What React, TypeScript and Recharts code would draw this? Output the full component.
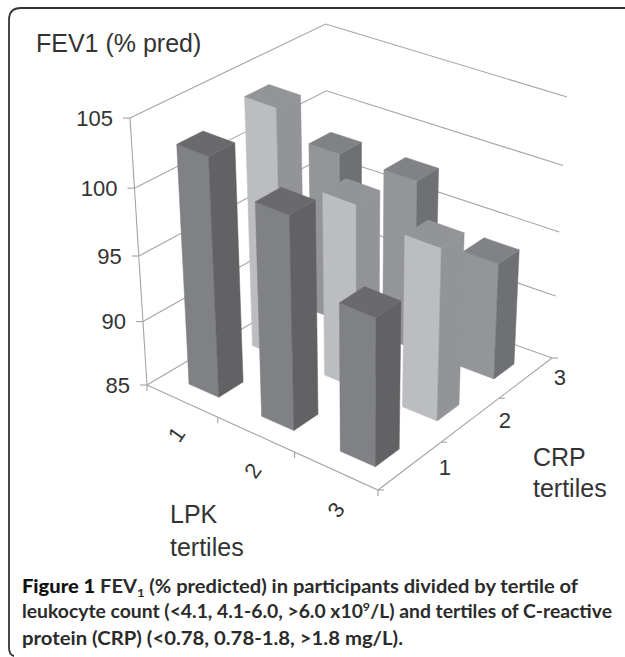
import { Scatter, ScatterChart, XAxis, YAxis } from 'recharts'

const WIDTH = 625
const HEIGHT = 657
const FONT = '"Liberation Sans", Arial, sans-serif'

const lpkTertiles = [1, 2, 3]
const crpTertiles = [1, 2, 3]
const fevTicks = [85, 90, 95, 100, 105]

// FEV1 (% pred) per LPK tertile, one list per CRP tertile
const fevCrp1 = [103.1, 101.15, 96.25]
const fevCrp2 = [104.05, 99.1, 98.2]
const fevCrp3 = [98.2, 98.15, 94.05]

const fevByCrp = [fevCrp1, fevCrp2, fevCrp3]

// left face, right face, top face per CRP tertile
const crpColors = [
  ['#808184', '#626264', '#6a6a6c'],
  ['#bcbdc0', '#929497', '#929497'],
  ['#939598', '#6f7073', '#808285'],
]

const FEV_MIN = 85
const FEV_MAX = 105
const BAR_U = 0.14
const BAR_V = 0.125

// camera: floor corners, wall height at each corner, vertical vanishing point
const floor = { ax: 147, ay: 385, bx: 378, by: 490, cx: 552, cy: 358, dx: 328, dy: 278 }
const wallHeight = { a: 267, b: 275, c: 261, d: 254 }
const vanish = { x: 359, y: 3714 }
const SQUEEZE = 0.07

const den = (floor.bx - floor.cx) * (floor.dy - floor.cy) - (floor.dx - floor.cx) * (floor.by - floor.cy)
const sx = floor.ax - floor.bx + floor.cx - floor.dx
const sy = floor.ay - floor.by + floor.cy - floor.dy
const g = (sx * (floor.dy - floor.cy) - (floor.dx - floor.cx) * sy) / den
const h = ((floor.bx - floor.cx) * sy - sx * (floor.by - floor.cy)) / den
const m = {
  a: floor.bx - floor.ax + g * floor.bx,
  b: floor.dx - floor.ax + h * floor.dx,
  d: floor.by - floor.ay + g * floor.by,
  e: floor.dy - floor.ay + h * floor.dy,
}

// u runs along LPK, v along CRP, both 0..1 over the floor
function project(u: number, v: number, fev: number) {
  const w = g * u + h * v + 1
  const x0 = (m.a * u + m.b * v + floor.ax) / w
  const y0 = (m.d * u + m.e * v + floor.ay) / w
  const t = (fev - FEV_MIN) / (FEV_MAX - FEV_MIN)
  const full =
    wallHeight.a * (1 - u) * (1 - v) + wallHeight.b * u * (1 - v) + wallHeight.c * u * v + wallHeight.d * (1 - u) * v
  const rise = (full * t) / (1 + SQUEEZE * (1 - t))
  return {
    x: x0 - (rise * (vanish.x - x0)) / (vanish.y - y0),
    y: y0 - rise,
  }
}

type Pt = { x: number; y: number }
const path = (pts: Pt[], ox: number, oy: number) =>
  pts.map((p, i) => `${i ? 'L' : 'M'}${(p.x + ox).toFixed(1)} ${(p.y + oy).toFixed(1)}`).join(' ')

// every mark is anchored on one point and drawn relative to where the axes put it
function WireShape({ cx, cy, payload }: any) {
  return <path d={path(payload.pts, cx - payload.x, cy - payload.y)} fill="none" stroke="#a3a4a7" strokeWidth={1.1} />
}

function BarShape({ cx, cy, payload }: any) {
  const ox = cx - payload.x
  const oy = cy - payload.y
  const [left, right, top] = payload.colors
  return (
    <g>
      <path d={path(payload.leftFace, ox, oy) + 'Z'} fill={left} stroke={left} strokeWidth={0.5} />
      <path d={path(payload.rightFace, ox, oy) + 'Z'} fill={right} stroke={right} strokeWidth={0.5} />
      <path d={path(payload.topFace, ox, oy) + 'Z'} fill={top} stroke={top} strokeWidth={0.5} />
    </g>
  )
}

function TickLabel({ cx, cy, payload }: any) {
  return (
    <text
      x={cx}
      y={cy}
      fontSize={payload.size}
      fontFamily={FONT}
      fill="#333"
      textAnchor={payload.anchor}
      dominantBaseline="central"
      transform={payload.rotate ? `rotate(${payload.rotate} ${cx} ${cy})` : undefined}
    >
      {payload.label}
    </text>
  )
}

const wire = (pts: Pt[]) => ({ x: pts[0].x, y: pts[0].y, pts })

const wires = [
  ...fevTicks.map((f) => wire([project(0, 0, f), project(0, 1, f), project(1, 1, f)])),
  ...fevTicks.map((f) => {
    const p = project(0, 0, f)
    return wire([p, { x: p.x - 7, y: p.y }])
  }),
  wire([project(0, 0, FEV_MIN), project(0, 0, FEV_MAX)]),
  wire([project(0, 0, FEV_MIN), project(1, 0, FEV_MIN), project(1, 1, FEV_MIN)]),
  ...[0, 1, 2, 3].map((i) => {
    const p = project(i / 3, 0, FEV_MIN)
    return wire([p, { x: p.x, y: p.y + 6 }])
  }),
  ...[0, 1, 2, 3].map((i) => {
    const p = project(1, i / 3, FEV_MIN)
    return wire([p, { x: p.x + 6, y: p.y }])
  }),
]

// painted back to front
const bars = [2, 1, 0].flatMap((c) =>
  lpkTertiles.map((_, l) => {
    const fev = fevByCrp[c][l]
    const u0 = (l + 0.5) / 3 - BAR_U / 2 + 0.015
    const u1 = u0 + BAR_U
    const v0 = (c + 0.5) / 3 - 0.0725
    const v1 = v0 + BAR_V
    const anchor = project(u1, v0, FEV_MIN)
    return {
      x: anchor.x,
      y: anchor.y,
      colors: crpColors[c],
      leftFace: [project(u0, v0, FEV_MIN), anchor, project(u1, v0, fev), project(u0, v0, fev)],
      rightFace: [anchor, project(u1, v1, FEV_MIN), project(u1, v1, fev), project(u1, v0, fev)],
      topFace: [project(u0, v0, fev), project(u1, v0, fev), project(u1, v1, fev), project(u0, v1, fev)],
    }
  }),
)

const tickLabels = [
  ...fevTicks.map((f) => {
    const p = project(0, 0, f)
    return { x: p.x - 17, y: p.y, label: f, size: 22, rotate: 0, anchor: 'end' }
  }),
  ...lpkTertiles.map((l, i) => ({ ...project((i + 0.89) / 3, -0.16, FEV_MIN), label: l, size: 22, rotate: -55, anchor: 'middle' })),
  ...crpTertiles.map((c, i) => ({ ...project(1.13, (i + 0.5) / 3, 86), label: c, size: 22, rotate: 0, anchor: 'middle' })),
]

function Overlay() {
  const big = { fontFamily: FONT, fontSize: 25, fill: '#333' }
  const cap = { fontFamily: 'Lato, sans-serif', fontSize: 18.5, fontWeight: 700, fill: '#2b2b2b' }
  return (
    <svg width={WIDTH} height={HEIGHT} style={{ position: 'absolute', left: 0, top: 0 }}>
      <path d="M625 8 H21 Q9 8 9 20 V647 Q9 655 14 656" fill="none" stroke="#333" strokeWidth={1.8} />
      <text x={36} y={52} {...big}>FEV1 (% pred)</text>
      <text x={170} y={523} {...big}>LPK</text>
      <text x={170} y={556} {...big}>tertiles</text>
      <text x={533} y={466} {...big}>CRP</text>
      <text x={533} y={497} {...big}>tertiles</text>
      <text x={22} y={593} {...cap} textLength={556} lengthAdjust="spacingAndGlyphs">
        <tspan fontWeight={900} fill="#111">Figure 1</tspan> FEV<tspan fontSize={12} dy={4}>1</tspan>
        <tspan dy={-4}> (% predicted) in participants divided by tertile of</tspan>
      </text>
      <text x={22} y={618} {...cap} textLength={590} lengthAdjust="spacingAndGlyphs">
        leukocyte count (&lt;4.1, 4.1-6.0, &gt;6.0 x10<tspan fontSize={12} dy={-7}>9</tspan>
        <tspan dy={7}>/L) and tertiles of C-reactive</tspan>
      </text>
      <text x={22} y={645} {...cap} textLength={381} lengthAdjust="spacingAndGlyphs">
        protein (CRP) (&lt;0.78, 0.78-1.8, &gt;1.8 mg/L).
      </text>
    </svg>
  )
}

export default function App() {
  return (
    <div style={{ position: 'absolute', left: 0, top: 0, width: WIDTH, height: HEIGHT, background: '#fff' }}>
      <ScatterChart width={WIDTH} height={HEIGHT} margin={{ top: 0, right: 0, bottom: 0, left: 0 }}>
        <XAxis type="number" dataKey="x" domain={[0, WIDTH]} hide />
        <YAxis type="number" dataKey="y" domain={[0, HEIGHT]} reversed hide />
        <Scatter data={wires} shape={<WireShape />} isAnimationActive={false} />
        <Scatter data={bars} shape={<BarShape />} isAnimationActive={false} />
        <Scatter data={tickLabels} shape={<TickLabel />} isAnimationActive={false} />
      </ScatterChart>
      <Overlay />
    </div>
  )
}
